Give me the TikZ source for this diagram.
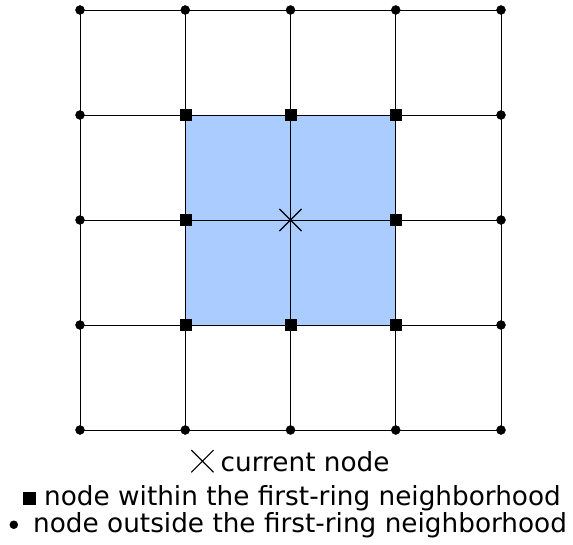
\documentclass[tikz,border=0pt]{standalone}
\usepackage{fontspec}
\setmainfont{DejaVu Sans}
\usetikzlibrary{positioning,shapes.misc}
\definecolor{ringblue}{RGB}{170,204,255}

\begin{document}
\begin{tikzpicture}[x=1pt,y=-1pt]
		\tikzset{
			outer/.style={draw,circle,inner sep=0pt,minimum size=9pt,fill=black},
			inner/.style={draw,rectangle,inner sep=0pt,minimum size=11pt,fill=black},
			current/.style={draw,cross out,inner sep=0pt,minimum size=21pt,line width=1.2pt},
			legend/.style={inner sep=0pt,anchor=base west,font=\fontsize{26.3}{30}\selectfont}
		}
		\useasboundingbox (0,0) rectangle (573,544);
		\fill[ringblue] (185.25,115) rectangle (395.75,325);
		
		% grid nodes: n<column><row>
		\foreach \i in {1,...,5} {
			\foreach \j in {1,...,5} {
				\def\kind{outer}
				\ifnum\i>1 \ifnum\i<5 \ifnum\j>1 \ifnum\j<5 \def\kind{inner}\fi\fi\fi\fi
				\ifnum\i=3 \ifnum\j=3 \def\kind{current}\fi\fi
				\node (n\i\j) at ({80+105.25*(\i-1)},{10+105*(\j-1)}) [\kind] {};
			}
		}
		
		\foreach \i in {1,...,5} {
			\foreach \j/\k in {1/2,2/3,3/4,4/5} {
				\draw[line width=0.9pt] (n\i\j.center) -- (n\i\k.center);
				\draw[line width=0.9pt] (n\j\i.center) -- (n\k\i.center);
			}
		}
		
		% legend
		\node (curtext) at (220.5,471) [legend] {current node};
		\node (intext) at (44,505) [legend] {node within the first-ring neighborhood};
		\node (outtext) at (33,532) [legend] {node outside the first-ring neighborhood};
		\node (curmark) [current,left=7pt of curtext] {};
		\node (inmark) [inner,minimum size=12pt,left=9pt of intext] {};
		\node (outmark) [outer,minimum size=8pt,left=15pt of outtext] {};
	\end{tikzpicture}
\end{document}
